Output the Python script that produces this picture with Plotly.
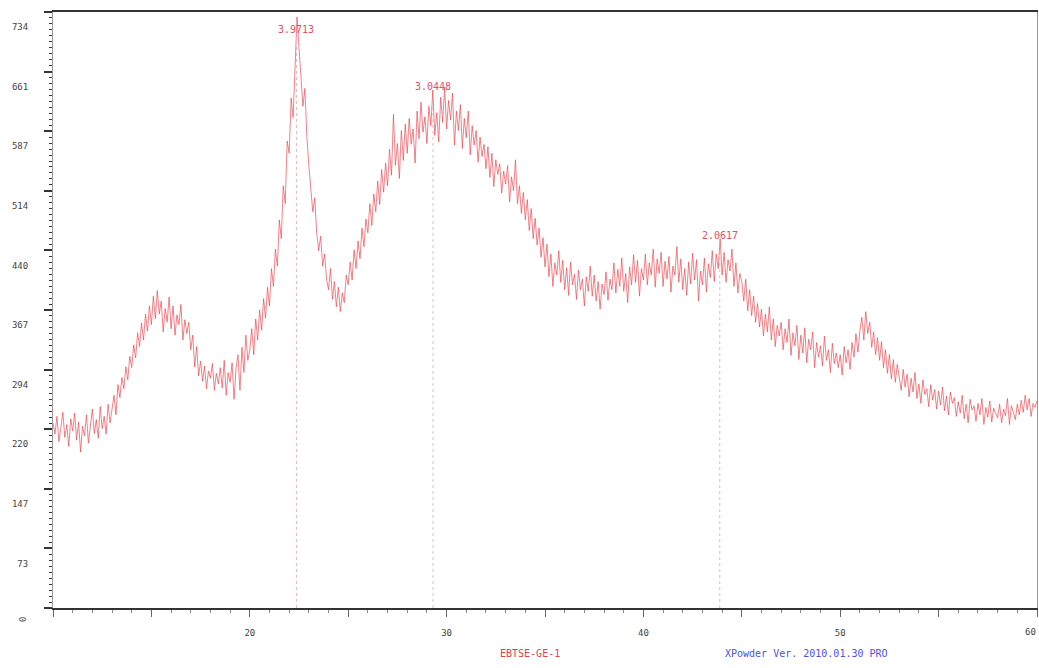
import plotly.graph_objects as go

# 2-theta start / step (degrees)
two_theta_start = 10.0
two_theta_step = 0.1

counts = [
    228, 214, 236, 205, 222, 241, 210, 226, 199, 233,
    218, 240, 207, 229, 192, 224, 212, 238, 203, 221,
    245, 215, 232, 209, 248, 221, 236, 214, 251, 228,
    244, 262, 238, 275, 259, 284, 270, 297, 281, 310,
    296, 324, 308, 339, 322, 351, 330, 362, 341, 372,
    349, 384, 356, 391, 362, 378, 340, 369, 352, 383,
    344, 372, 336, 361, 349, 374, 330, 355, 338, 352,
    318, 336, 297, 322, 286, 304, 279, 298, 270, 292,
    283, 301, 268, 289, 276, 296, 271, 305, 262, 290,
    278, 302, 257, 295, 312, 268, 321, 290, 336, 305,
    318, 344, 312, 356, 330, 367, 342, 381, 357, 395,
    372, 418, 396, 442, 421, 478, 455, 520, 498, 575,
    560, 628, 604, 672, 728, 690, 655, 618, 640, 580,
    545, 520, 488, 505, 462, 440, 458, 421, 436, 405,
    392, 418, 380, 402, 371, 395, 365, 388, 376, 410,
    398, 426, 404, 441, 418, 452, 430, 468, 445, 479,
    462, 498, 471, 510, 488, 526, 497, 540, 512, 548,
    520, 565, 533, 608, 545, 572, 529, 588, 551, 596,
    560, 603, 571, 590, 548, 612, 578, 623, 586, 605,
    572, 618, 594, 638, 582, 610, 574, 629, 598, 641,
    590, 625, 601, 634, 570, 612, 588, 620, 566, 603,
    579, 612, 558, 594, 570, 588, 549, 580, 556, 571,
    541, 568, 530, 560, 519, 552, 534, 547, 511, 538,
    522, 545, 500, 531, 514, 552, 498, 520, 486, 512,
    478, 503, 465, 492, 455, 480, 447, 468, 432, 456,
    420, 448, 408, 436, 396, 425, 410, 440, 401, 428,
    392, 419, 385, 426, 398, 411, 380, 416, 392, 405,
    372, 408, 390, 421, 384, 410, 378, 402, 368, 399,
    386, 414, 379, 405, 392, 425, 388, 417, 396, 431,
    390, 412, 376, 420, 398, 435, 401, 428, 384, 418,
    404, 436, 398, 425, 410, 442, 395, 430, 412, 438,
    396, 427, 405, 433, 389, 421, 410, 445, 401, 430,
    392, 418, 385, 426, 399, 437, 404, 429, 378, 415,
    398, 431, 389, 424, 407, 440, 402, 436, 418, 455,
    410, 438, 401, 429, 415, 442, 396, 425, 388, 412,
    402, 378, 405, 366, 392, 360, 384, 352, 375, 346,
    368, 335, 362, 340, 371, 330, 356, 322, 348, 335,
    352, 318, 344, 327, 356, 311, 339, 323, 348, 306,
    336, 314, 345, 302, 331, 318, 340, 296, 327, 309,
    323, 298, 335, 305, 318, 290, 326, 301, 314, 296,
    312, 287, 322, 302, 318, 294, 327, 309, 338, 315,
    342, 358, 330, 365, 338, 352, 321, 340, 312, 333,
    305, 328, 296, 318, 289, 312, 282, 306, 278, 300,
    285, 268, 294, 272, 288, 260, 283, 266, 290, 258,
    276, 252, 281, 263, 270, 248, 275, 256, 269, 245,
    267, 250, 272, 243, 261, 238, 266, 252, 259, 236,
    254, 240, 262, 233, 251, 228, 257, 244, 249, 230,
    252, 238, 258, 226, 247, 235, 255, 229, 246, 240,
    234, 251, 228, 245, 237, 258, 226, 249, 240, 232,
    251, 238, 256, 241, 262, 244, 258, 236, 252, 247,
    255,
]

# marked peaks
peak_two_theta = [22.37, 29.31, 43.88]
peak_labels = ["3.9713", "3.0448", "2.0617"]
peak_label_counts = [712, 642, 459]

# axis ticks
x_tick_vals = [10, 15, 20, 25, 30, 35, 40, 45, 50, 55, 60]
x_tick_text = ["", "", "20", "", "30", "", "40", "", "50", "", ""]
x_end_label = "60"
y_tick_vals = [0, 73.4, 146.8, 220.2, 293.6, 367, 440.4, 513.8, 587.2, 660.6, 734]
y_tick_text = ["", "73", "147", "220", "294", "367", "440", "514", "587", "661", "734"]

sample_name = "EBTSE-GE-1"
software_name = "XPowder Ver. 2010.01.30 PRO"

two_theta = [round(two_theta_start + i * two_theta_step, 2) for i in range(len(counts))]

fig = go.Figure()
fig.add_trace(go.Scatter(
    x=two_theta, y=counts, mode="lines",
    line=dict(color="rgba(236,70,78,0.85)", width=0.8),
    hoverinfo="skip", showlegend=False,
))

for xp, lab, yc in zip(peak_two_theta, peak_labels, peak_label_counts):
    fig.add_shape(type="line", x0=xp, x1=xp, y0=0, y1=yc - 18,
                  line=dict(color="rgba(240,150,150,0.7)", width=1, dash="dot"))
    fig.add_annotation(x=xp, y=yc, text=lab, showarrow=False,
                       font=dict(family="DejaVu Sans Mono", size=10, color="#e0506a"),
                       xanchor="center", yanchor="middle")

fig.add_annotation(xref="x", yref="paper", x=x_tick_vals[-1], y=(608 - 632) / 596,
                   text=x_end_label, showarrow=False, xanchor="right", yanchor="middle",
                   xshift=1,
                   font=dict(family="DejaVu Sans Mono", size=9, color="#444"))
fig.add_annotation(xref="paper", yref="paper", x=(530 - 53) / 984, y=(608 - 653) / 596,
                   text=sample_name, showarrow=False, yanchor="middle",
                   font=dict(family="DejaVu Sans Mono", size=10, color="#e04050"))
fig.add_annotation(xref="paper", yref="paper", x=(890 - 53) / 984, y=(608 - 653) / 596,
                   text=software_name, showarrow=False, yanchor="middle",
                   font=dict(family="DejaVu Sans Mono", size=10, color="#5050e0"))
fig.add_annotation(xref="paper", yref="paper", x=(23 - 53) / 984, y=(608 - 620) / 596,
                   text="0", showarrow=False, textangle=-90,
                   xanchor="center", yanchor="middle",
                   font=dict(family="DejaVu Sans Mono", size=9, color="#555"))

fig.update_xaxes(
    range=[10, 60], showgrid=False, zeroline=False, automargin=False,
    showline=True, linecolor="#333", linewidth=2, mirror=True,
    tickmode="array", tickvals=x_tick_vals, ticktext=x_tick_text,
    ticks="outside", ticklen=7, tickwidth=1, tickcolor="#666",
    ticklabelstandoff=8,
    tickfont=dict(family="DejaVu Sans Mono", size=9, color="#444"),
    minor=dict(dtick=1, ticks="outside", ticklen=3, tickcolor="#888", tickwidth=1, showgrid=False),
)
fig.update_yaxes(
    range=[0, 734], showgrid=False, zeroline=False, automargin=False,
    showline=True, linecolor="#999", linewidth=1, mirror=True,
    tickmode="array", tickvals=y_tick_vals, ticktext=y_tick_text,
    ticks="outside", ticklen=8, tickwidth=2, tickcolor="#333",
    ticklabelstandoff=14, ticklabelshift=15,
    tickfont=dict(family="DejaVu Sans Mono", size=9, color="#444"),
    minor=dict(dtick=7.34, tick0=0, ticks="outside", ticklen=3, tickcolor="#333", tickwidth=1, showgrid=False),
)

fig.update_layout(
    width=1039, height=668,
    margin=dict(l=53, r=2, t=12, b=60),
    paper_bgcolor="white", plot_bgcolor="white",
    showlegend=False,
)

fig.write_html(
    "out.html",
    config={"displayModeBar": False},
    post_script="document.body.style.margin='0';document.body.style.overflow='hidden';",
)
